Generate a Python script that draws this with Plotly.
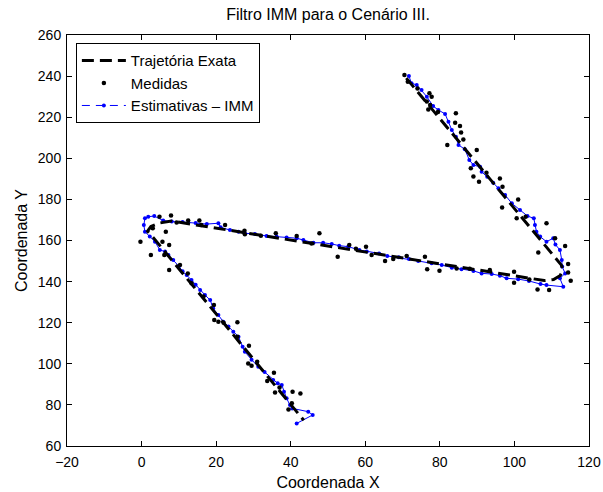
import plotly.graph_objects as go

# True trajectory (vertices)
true_x = [71.0, 112.6, 113.0, 112.3, 110.5, 108.0, 8.0, 4.8, 2.5, 1.6, 3.1, 43.5]
true_y = [239.0, 148.0, 146.0, 143.0, 141.0, 140.5, 169.5, 168.5, 166.8, 164.5, 161.5, 72.5]

# Measurements
meas_x = [70.5, 71.4, 77.2, 77.8, 76.5, 77.4, 76.9, 84.3, 85.4, 85.7, 86.3, 82.0, 84.1, 89.9,
          88.3, 89.0, 90.5, 96.1, 96.8, 96.7, 101.0, 100.6, 108.6, 106.4, 110.9, 113.6, 114.4,
          115.1, 106.2, 109.3, 99.9, 99.9, 93.4, 84.5, 79.9, 76.6, 76.0, 71.1, 65.3, 52.6, 55.7,
          60.2, 61.7, 114.4, 4.8, 7.9, -0.3, 2.5, 6.5, 5.6, 7.4, 6.1, 7.4, 10.3, 12.4, 13.4, 16.6,
          19.4, 19.5, 20.6, 25.7, 25.7, 28.8, 28.6, 29.5, 35.5, 33.7, 35.8, 40.5, 42.6, 39.4, 40.3,
          9.4, 12.5, 15.5, 16.0, 22.4, 27.6, 27.7, 36.0, 41.6, 47.7, 45.6,
          32.0, 67.5, 88.0, 104.0, 22.0, 31.0, 37.0, 79.5, 92.5, 103.0, 74.0, 57.5, 3.0]
meas_y = [240.5, 237.3, 231.6, 230.0, 227.6, 225.9, 223.8, 221.9, 215.7, 212.5, 209.2, 206.5, 217.3, 204.0,
          195.1, 191.1, 188.6, 190.2, 186.2, 176.0, 180.0, 170.8, 168.4, 154.1, 161.1, 157.3, 148.6,
          140.4, 136.2, 135.9, 144.8, 139.5, 145.6, 146.4, 145.3, 146.0, 152.1, 152.5, 150.0, 152.1, 157.8,
          157.0, 152.9, 144.4, 171.6, 172.2, 159.4, 152.9, 164.3, 159.4, 157.8, 152.9, 145.6, 148.1, 144.0, 139.2, 132.7,
          128.6, 121.3, 120.5, 120.2, 113.2, 108.8, 100.2, 99.1, 95.7, 91.6, 86.0, 86.4, 85.5, 77.8, 80.8,
          168.7, 169.7, 169.7, 167.5, 167.5, 164.8, 163.0, 163.5, 162.2, 163.5, 158.6,
          162.3, 151.0, 146.2, 141.0, 120.0, 101.0, 88.5, 222.5, 193.0, 171.5, 234.0, 156.0, 166.0]

# IMM estimates
est_x = [71.7, 72.4, 73.8, 75.1, 76.5, 78.2, 79.6, 81.4, 82.3, 83.2,
         84.3, 85.0, 86.7, 87.9, 89.0, 90.8, 91.2, 92.7, 94.3, 95.7,
         97.5, 99.3, 101.5, 103.5, 105.2, 105.5, 105.9, 106.9, 108.6, 110.4,
         111.0, 112.2, 112.7, 112.8, 113.6, 112.2, 113.1, 108.6, 107.0, 103.9,
         101.0, 97.9, 96.1, 93.9, 91.2, 89.0, 85.8, 83.2, 80.5, 77.8,
         74.2, 71.7, 69.0, 65.9, 63.7, 60.4, 58.4, 55.4, 53.0, 51.0,
         48.7, 46.1, 43.4, 41.6, 38.9, 36.2, 33.5, 30.4, 27.7, 26.0,
         23.7, 21.2, 20.6, 17.5, 14.5, 11.0, 8.1, 5.8, 3.4, 1.8,
         0.9, 0.6, 0.9, 2.2, 3.6, 4.9, 6.3, 7.2, 8.5, 10.0,
         11.0, 12.1, 13.4, 14.5, 15.7, 17.0, 18.4, 19.2, 20.6, 21.9,
         23.3, 24.6, 26.0, 27.1, 27.7, 29.5, 31.3, 33.0, 35.3, 36.5,
         37.6, 38.2, 38.9, 39.8, 40.4, 44.7, 45.9, 41.6]
est_y = [240.0, 236.5, 235.7, 233.2, 230.0, 225.4, 223.5, 221.6, 217.8, 213.8,
         210.5, 206.5, 204.4, 199.2, 196.7, 195.9, 193.5, 191.0, 188.1, 185.4,
         182.1, 178.1, 174.8, 171.9, 170.8, 167.5, 164.3, 161.9, 159.4, 161.1,
         158.0, 155.4, 150.5, 147.3, 144.0, 141.6, 137.5, 138.3, 138.8, 140.3,
         141.2, 141.6, 142.9, 143.7, 144.0, 145.2, 146.0, 146.8, 148.1, 148.9,
         150.0, 151.0, 151.8, 152.5, 153.7, 154.6, 155.4, 157.0, 157.5, 158.3,
         158.9, 158.9, 160.2, 161.1, 161.5, 161.9, 162.2, 163.2, 163.5, 164.3,
         165.1, 166.4, 168.4, 168.0, 168.5, 169.0, 169.2, 169.7, 171.9, 171.6,
         170.8, 167.5, 164.3, 162.0, 159.4, 155.4, 154.6, 152.9, 150.5, 147.5,
         145.0, 143.2, 140.8, 138.5, 135.9, 133.5, 131.0, 127.0, 123.7, 120.5,
         118.1, 115.6, 113.2, 108.3, 105.9, 102.0, 98.6, 96.0, 92.1, 90.5,
         89.7, 86.4, 83.2, 79.9, 78.3, 76.7, 75.1, 71.0]

x_ticks = [-20, 0, 20, 40, 60, 80, 100, 120]
y_ticks = [60, 80, 100, 120, 140, 160, 180, 200, 220, 240, 260]

FONT = "Liberation Sans, Arial, Helvetica, sans-serif"

fig = go.Figure()
fig.add_trace(go.Scatter(x=est_x, y=est_y, mode="lines+markers", showlegend=False,
                         line=dict(color="#0000ff", width=1),
                         marker=dict(color="#0000ff", size=4)))
fig.add_trace(go.Scatter(x=meas_x, y=meas_y, mode="markers", name="Medidas", legendrank=2,
                         marker=dict(color="black", size=4.5)))
fig.add_trace(go.Scatter(x=true_x, y=true_y, mode="lines", name="Trajetória Exata", legendrank=1,
                         line=dict(color="black", width=3, dash="12px,6px")))
fig.add_trace(go.Scatter(x=[None], y=[None], mode="lines+markers", name="Estimativas – IMM",
                         legendrank=3, line=dict(color="#0000ff", width=1, dash="8px,6px"),
                         marker=dict(color="#0000ff", size=4)))

axis_common = dict(showline=True, linecolor="black", linewidth=1, mirror="ticks",
                   ticks="inside", ticklen=5, tickcolor="black", showgrid=False, zeroline=False,
                   automargin=False,
                   tickfont=dict(size=14, color="black", family=FONT))
fig.update_xaxes(range=[-20, 120], tickvals=x_ticks, **axis_common, ticklabelstandoff=3,
                 title=dict(text="Coordenada X", font=dict(size=16, color="black", family=FONT), standoff=8))
fig.update_yaxes(range=[60, 260], tickvals=y_ticks, **axis_common, ticklabelstandoff=2,
                 title=dict(text="Coordenada Y", font=dict(size=16, color="black", family=FONT), standoff=6))

fig.update_layout(
    width=603, height=492,
    margin=dict(l=67, r=14, t=35, b=46, autoexpand=False),
    paper_bgcolor="white", plot_bgcolor="white",
    title=dict(text="Filtro IMM para o Cenário III.", x=0.544, xanchor="center",
               y=1 - 14 / 492, yanchor="middle", yref="container",
               font=dict(size=16, color="black", family=FONT)),
    legend=dict(x=0.017, y=0.98, xanchor="left", yanchor="top",
                bgcolor="white", bordercolor="black", borderwidth=1,
                font=dict(size=15, color="black", family=FONT),
                tracegroupgap=0, itemwidth=44),
    font=dict(family=FONT, color="black"),
)

fig.write_html("out.html")
